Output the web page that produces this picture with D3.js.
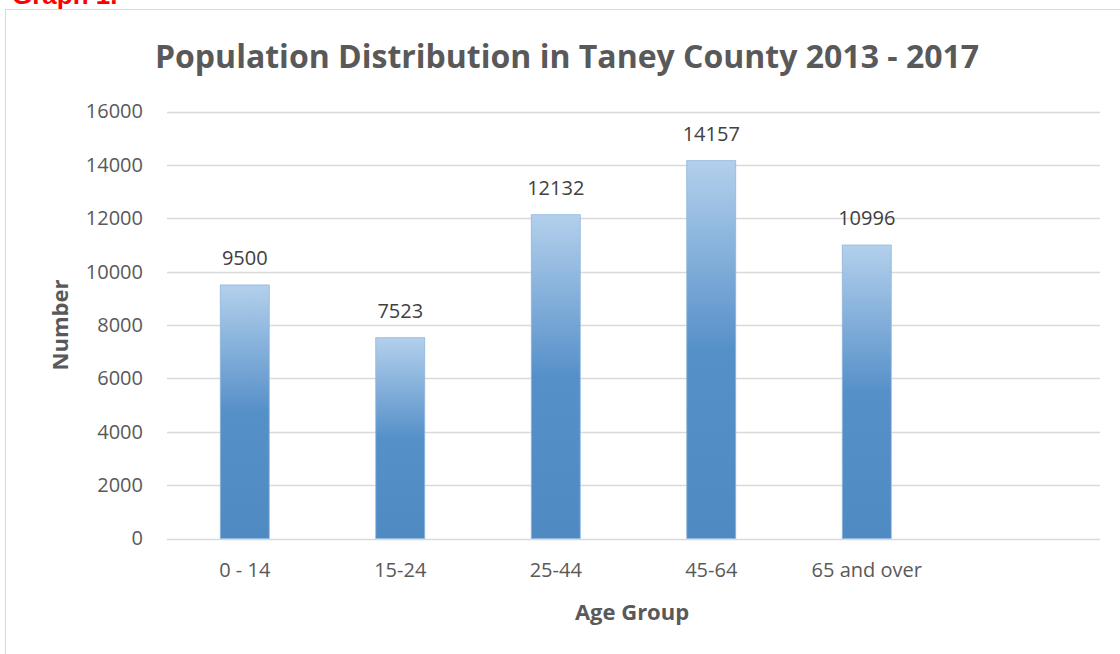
<!DOCTYPE html>
<html>
<head>
<meta charset="utf-8">
<script src="https://cdn.jsdelivr.net/npm/d3@7"></script>
<style>
  body { margin: 0; background: #fff; }
  svg { display: block; }
</style>
</head>
<body>
<div id="chart"></div>
<script>
// Values.
const ageGroups = ["0 - 14", "15-24", "25-44", "45-64", "65 and over", ""];
const population = [9500, 7523, 12132, 14157, 10996, null];
const yTicks = [0, 2000, 4000, 6000, 8000, 10000, 12000, 14000, 16000];

const width = 1120, height = 654;
const font = "'Open Sans', 'Noto Sans', sans-serif";

const svg = d3.select("#chart").append("svg")
  .attr("width", width)
  .attr("height", height);

// Gradient for the bars: light at the top, solid blue from the middle down.
const grad = svg.append("defs").append("linearGradient")
  .attr("id", "barGrad")
  .attr("x1", 0).attr("y1", 0).attr("x2", 0).attr("y2", 1);
grad.append("stop").attr("offset", "0%").attr("stop-color", "#b3d0ec");
grad.append("stop").attr("offset", "50%").attr("stop-color", "#5690c9");
grad.append("stop").attr("offset", "100%").attr("stop-color", "#4f8ac3");

// Page heading peeking in at the top (cropped in the original).
svg.append("text")
  .attr("x", 12)
  .attr("y", 4)
  .attr("fill", "#ff0000")
  .attr("font-family", "'Liberation Sans', Arial, sans-serif")
  .attr("font-weight", "bold")
  .attr("font-size", 26)
  .text("Graph 1.");

// Chart frame.
svg.append("rect")
  .attr("x", 5.5).attr("y", 9.5)
  .attr("width", width - 5).attr("height", height - 9)
  .attr("fill", "#fff")
  .attr("stroke", "#d9d9d9");

const margin = { left: 167, right: 20, top: 111.5, bottom: 115.5 };
const plotBottom = height - margin.bottom;

const x = d3.scaleBand()
  .domain(d3.range(ageGroups.length))
  .range([margin.left, width - margin.right])
  .paddingInner(0.685)
  .paddingOuter(0.3425);

const y = d3.scaleLinear()
  .domain([0, 16000])
  .range([plotBottom, margin.top]);

// Gridlines.
svg.append("g")
  .selectAll("line")
  .data(yTicks)
  .join("line")
  .attr("x1", margin.left)
  .attr("x2", width - margin.right)
  .attr("y1", d => Math.round(y(d)) + 0.5)
  .attr("y2", d => Math.round(y(d)) + 0.5)
  .attr("stroke", "#d9d9d9")
  .attr("stroke-width", 1.5);

// Y axis labels.
const yAxis = svg.append("g")
  .attr("transform", `translate(${margin.left - 24},0)`)
  .call(d3.axisLeft(y).tickValues(yTicks).tickFormat(d3.format("d")).tickSize(0).tickPadding(0));
yAxis.select(".domain").remove();
yAxis.selectAll("text")
  .attr("font-family", font)
  .attr("font-size", 20)
  .attr("fill", "#595959");

// X axis labels.
const xAxis = svg.append("g")
  .attr("transform", `translate(0,${plotBottom})`)
  .call(d3.axisBottom(x).tickFormat(i => ageGroups[i]).tickSize(0).tickPadding(24));
xAxis.select(".domain").remove();
xAxis.selectAll("text")
  .attr("font-family", font)
  .attr("font-size", 20)
  .attr("fill", "#595959");

const barData = population.map((v, i) => ({ i, v })).filter(d => d.v != null);

// Bars.
svg.append("g")
  .selectAll("rect")
  .data(barData)
  .join("rect")
  .attr("x", d => x(d.i))
  .attr("y", d => y(d.v))
  .attr("width", x.bandwidth())
  .attr("height", d => plotBottom - y(d.v))
  .attr("fill", "url(#barGrad)")
  .attr("stroke", "#8fb6de")
  .attr("stroke-width", 0.8);

// Value labels.
svg.append("g")
  .selectAll("text")
  .data(barData)
  .join("text")
  .attr("x", d => x(d.i) + x.bandwidth() / 2)
  .attr("y", d => y(d.v) - 20)
  .attr("text-anchor", "middle")
  .attr("font-family", font)
  .attr("font-size", 20)
  .attr("fill", "#404040")
  .text(d => d.v);

// Title.
svg.append("text")
  .attr("x", 567)
  .attr("y", 68)
  .attr("text-anchor", "middle")
  .attr("font-family", font)
  .attr("font-weight", "bold")
  .attr("font-size", 32)
  .attr("fill", "#595959")
  .text("Population Distribution in Taney County 2013 - 2017");

// Axis titles.
svg.append("text")
  .attr("transform", `translate(68,${(margin.top + plotBottom) / 2}) rotate(-90)`)
  .attr("text-anchor", "middle")
  .attr("font-family", font)
  .attr("font-weight", "bold")
  .attr("font-size", 22)
  .attr("fill", "#595959")
  .text("Number");

svg.append("text")
  .attr("x", 632)
  .attr("y", 620)
  .attr("text-anchor", "middle")
  .attr("font-family", font)
  .attr("font-weight", "bold")
  .attr("font-size", 22)
  .attr("fill", "#595959")
  .text("Age Group");
</script>
</body>
</html>
